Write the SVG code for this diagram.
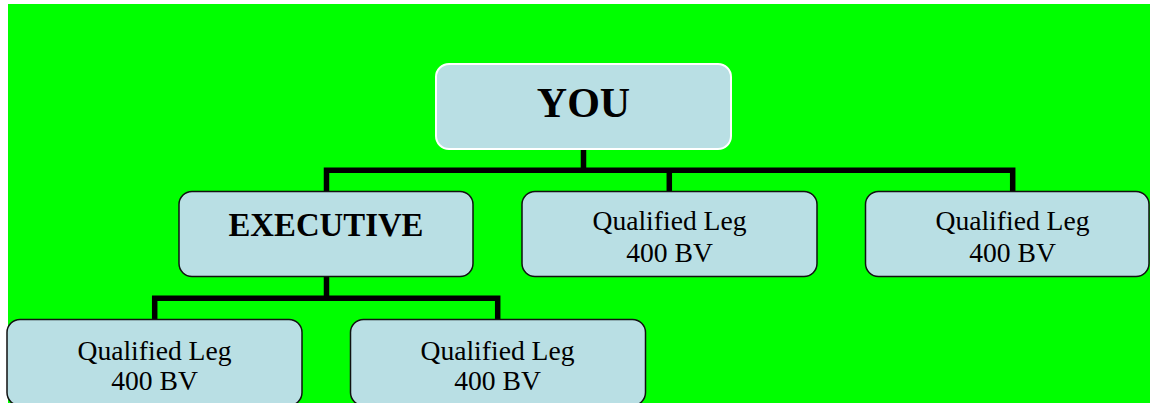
<svg xmlns="http://www.w3.org/2000/svg" width="1150" height="403" viewBox="0 0 1150 403">
  <style>
    .box { fill: #B9DFE4; stroke: #111; stroke-width: 1.5; }
    .top { fill: #B9DFE4; stroke: #FFFFFF; stroke-width: 2; }
    .conn { fill: none; stroke: #000; stroke-width: 5.5; stroke-linejoin: miter; stroke-linecap: butt; }
    .lbl { font-family: "Liberation Serif", "Times New Roman", serif; font-size: 27.6px; fill: #000; text-anchor: middle; }
    .bold { font-family: "Liberation Serif", "Times New Roman", serif; font-weight: bold; fill: #000; text-anchor: middle; }
  </style>
  <rect x="0" y="0" width="1150" height="403" fill="#FFFFFF"/>
  <rect x="8" y="4" width="1142" height="399" fill="#00FF00"/>
  <g id="connectors">
    <path class="conn" d="M583.5 149 V170.3 M326.5 191 V170.3 H1012.7 V191 M669.3 170.3 V191"/>
    <path class="conn" d="M326.5 277 V298.3 M154.7 319 V298.3 H497.7 V319"/>
  </g>
  <g id="you">
    <rect class="top" x="436" y="64" width="295" height="85" rx="13"/>
    <text class="bold" x="583.5" y="117" font-size="42">YOU</text>
  </g>
  <g id="executive">
    <rect class="box" x="179" y="191.5" width="294" height="85" rx="13"/>
    <text class="bold" x="326" y="235.5" font-size="32.8">EXECUTIVE</text>
  </g>
  <g id="leg-mid">
    <rect class="box" x="522" y="191.5" width="295" height="85" rx="13"/>
    <text class="lbl" x="669.5" y="230">Qualified Leg</text>
    <text class="lbl" x="669.5" y="261.5">400 BV</text>
  </g>
  <g id="leg-right">
    <rect class="box" x="865.5" y="191.5" width="283.5" height="85" rx="13"/>
    <text class="lbl" x="1012.5" y="230">Qualified Leg</text>
    <text class="lbl" x="1012.5" y="261.5">400 BV</text>
  </g>
  <g id="leg-bottom-left">
    <rect class="box" x="7" y="319.5" width="295" height="86" rx="13"/>
    <text class="lbl" x="154.5" y="359.5">Qualified Leg</text>
    <text class="lbl" x="154.5" y="390">400 BV</text>
  </g>
  <g id="leg-bottom-right">
    <rect class="box" x="350.5" y="319.5" width="295" height="86" rx="13"/>
    <text class="lbl" x="497.5" y="359.5">Qualified Leg</text>
    <text class="lbl" x="497.5" y="390">400 BV</text>
  </g>
</svg>
